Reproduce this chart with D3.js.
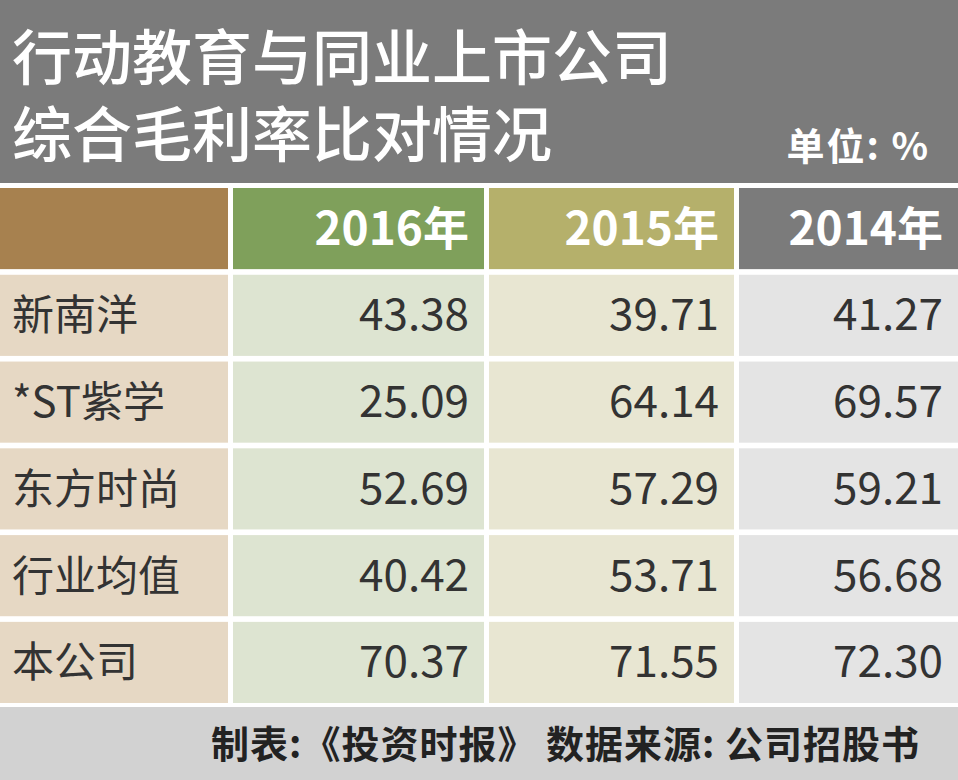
<!DOCTYPE html>
<html><head><meta charset="utf-8">
<script src="https://cdn.jsdelivr.net/npm/d3@7"></script>
<style>body{margin:0;background:#fff}text{font-family:"Noto Sans CJK SC","Noto Sans",sans-serif}</style>
</head><body>
<svg id="c" width="958" height="780"></svg>
<script>
// data
const years = ["2016年", "2015年", "2014年"];
const companies = ["新南洋", "*ST紫学", "东方时尚", "行业均值", "本公司"];
const v2016 = ["43.38", "25.09", "52.69", "40.42", "70.37"];
const v2015 = ["39.71", "64.14", "57.29", "53.71", "71.55"];
const v2014 = ["41.27", "69.57", "59.21", "56.68", "72.30"];
const series = [v2016, v2015, v2014];

const svg = d3.select("#c");

// title band
svg.append("rect").attr("width", 958).attr("height", 183).attr("fill", "#7b7b7b");
svg.append("text").attr("x", 12).attr("y", 80).attr("fill", "#fff").attr("font-size", 60).attr("font-weight", 500).text("行动教育与同业上市公司");
svg.append("text").attr("x", 12).attr("y", 157).attr("fill", "#fff").attr("font-size", 60).attr("font-weight", 500).text("综合毛利率比对情况");
svg.append("text").attr("x", 930).attr("y", 160).attr("text-anchor", "end").attr("fill", "#fff").attr("font-size", 38).attr("font-weight", 700).attr("letter-spacing", 2).text("单位: %");

// columns
const colX = d3.scaleOrdinal().domain([0, 1, 2, 3]).range([0, 233, 489, 739]);
const colW = d3.scaleOrdinal().domain([0, 1, 2, 3]).range([228, 251, 245, 219]);
const headFill = ["#a7814f", "#7fa05b", "#b5b06b", "#7b7b7b"];
const cellFill = ["#e6d8c4", "#dde4d1", "#e8e6d2", "#e4e4e4"];

const y = d3.scaleBand().domain(d3.range(6)).range([188, 703]).paddingInner(0.065);

// header row
[0, 1, 2, 3].forEach(c => {
  svg.append("rect").attr("x", colX(c)).attr("y", y(0)).attr("width", colW(c)).attr("height", y.bandwidth()).attr("fill", headFill[c]);
  if (c > 0) svg.append("text").attr("x", colX(c) + colW(c) - 15).attr("y", y(0) + y.bandwidth() / 2 + 16)
    .attr("text-anchor", "end").attr("fill", "#fff").attr("font-size", 46).attr("font-weight", 700).text(years[c - 1]);
});

// body rows
companies.forEach((name, i) => {
  const yy = y(i + 1);
  [0, 1, 2, 3].forEach(c => {
    svg.append("rect").attr("x", colX(c)).attr("y", yy).attr("width", colW(c)).attr("height", y.bandwidth()).attr("fill", cellFill[c]);
  });
  svg.append("text").attr("x", 12).attr("y", yy + y.bandwidth() / 2 + 15).attr("fill", "#333").attr("font-size", 42).text(name);
  series.forEach((s, j) => {
    svg.append("text").attr("x", colX(j + 1) + colW(j + 1) - 15).attr("y", yy + y.bandwidth() / 2 + 15)
      .attr("text-anchor", "end").attr("fill", "#333").attr("font-size", 44).text(s[i]);
  });
});

// footer
svg.append("rect").attr("y", 707).attr("width", 958).attr("height", 73).attr("fill", "#d2d2d2");
svg.append("text").attr("x", 920).attr("y", 758).attr("text-anchor", "end").attr("fill", "#222").attr("font-size", 38).attr("font-weight", 700).attr("letter-spacing", 1)
  .text("制表:《投资时报》 数据来源: 公司招股书");
</script>
</body></html>
